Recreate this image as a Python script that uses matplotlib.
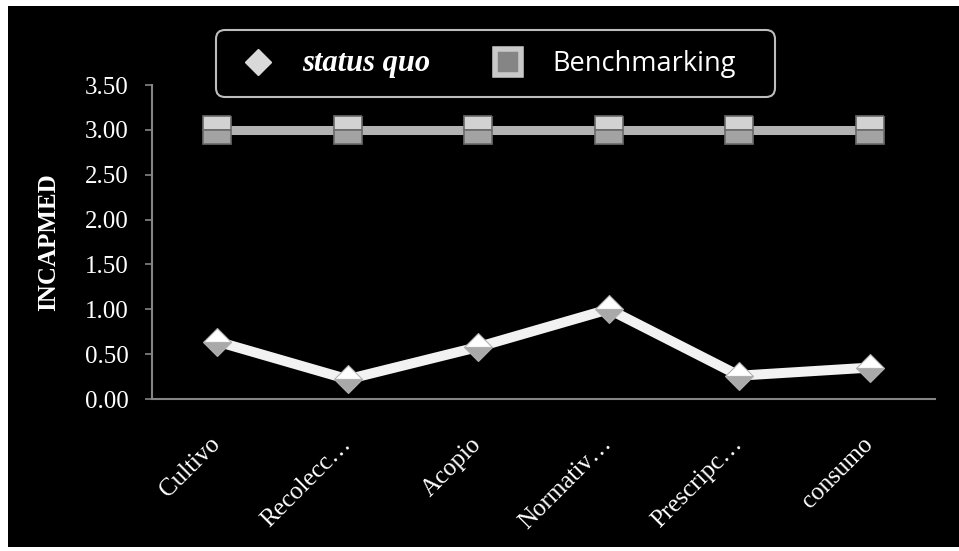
import matplotlib
matplotlib.use("Agg")
import matplotlib.pyplot as plt
from matplotlib.lines import Line2D
from matplotlib.patches import Rectangle, FancyBboxPatch

categories = ["Cultivo", "Recolecc…", "Acopio", "Normativ…", "Prescripc…", "consumo"]
status_quo = [0.64, 0.22, 0.58, 1.00, 0.26, 0.35]
benchmarking = [3.00, 3.00, 3.00, 3.00, 3.00, 3.00]
y_ticks = [0.0, 0.5, 1.0, 1.5, 2.0, 2.5, 3.0, 3.5]

serif = "Liberation Serif"
axis_grey = "#858585"

fig = plt.figure(figsize=(9.59, 5.51), dpi=100, facecolor="white")
# black panel with a thin white margin round it
fig.patches.append(Rectangle((8 / 959, 4 / 551), 951 / 959, 541 / 551,
                             transform=fig.transFigure, facecolor="black",
                             edgecolor="none", zorder=-5))
# rounded legend box (pixel coordinates)
fig.patches.append(FancyBboxPatch((216, 551 - 97), 559, 67,
                                  boxstyle="round,pad=0,rounding_size=9",
                                  transform=None, facecolor="black",
                                  edgecolor="#bdbdbd", linewidth=1.5, zorder=-4))

ax = fig.add_axes([152 / 959, 1 - 399 / 551, (935 - 152) / 959, (399 - 85) / 551])
ax.set_facecolor("none")

x = list(range(len(categories)))

ax.plot(x, benchmarking, color="#b3b3b3", lw=6.5, solid_capstyle="butt",
        marker="s", ms=20, fillstyle="top", markerfacecolor="#d2d2d2",
        markerfacecoloralt="#a3a3a3", markeredgecolor="#6a6a6a",
        markeredgewidth=1.2, zorder=3)
ax.plot(x, status_quo, color="#f2f2f2", lw=7.2, solid_capstyle="butt",
        marker="D", ms=14.5, fillstyle="top", markerfacecolor="#ffffff",
        markerfacecoloralt="#a9a9a9", markeredgecolor="#b0b0b0",
        markeredgewidth=0.8, zorder=4)

ax.set_xlim(-0.5, len(categories) - 0.5)
ax.set_ylim(0, 3.5)
ax.set_yticks(y_ticks)
ax.set_yticklabels([f"{v:.2f}" for v in y_ticks], fontfamily=serif,
                   fontsize=18, color="white")
ax.set_xticks(x)
ax.set_xticklabels(categories, fontfamily=serif, fontsize=18, color="white",
                   rotation=45, ha="right", va="center", rotation_mode="anchor")

ax.tick_params(axis="y", length=5, width=1.2, color=axis_grey, pad=12)
ax.tick_params(axis="x", length=0, pad=30)

for side in ["top", "right"]:
    ax.spines[side].set_visible(False)
for side in ["left", "bottom"]:
    ax.spines[side].set_color(axis_grey)
    ax.spines[side].set_linewidth(1.5)

ax.set_ylabel("INCAPMED", fontfamily=serif, fontsize=18, fontweight="bold",
              color="white", labelpad=18)

handles = [
    Line2D([], [], ls="none", marker="D", ms=13, markerfacecolor="#d9d9d9",
           markeredgecolor="#d9d9d9"),
    Line2D([], [], ls="none", marker="s", ms=19, markerfacecolor="#858585",
           markeredgecolor="#c9c9c9", markeredgewidth=4),
]
leg = fig.legend(handles, ["status quo", "Benchmarking"], ncol=2,
                 loc="upper center", bbox_to_anchor=(488.5 / 959, 1 - 30 / 551),
                 fontsize=20, frameon=False, handlelength=1.2,
                 handletextpad=1.0, columnspacing=2.2, borderpad=0.7,
                 borderaxespad=0)
t0, t1 = leg.get_texts()
t0.set_color("white")
t0.set_fontfamily(serif)
t0.set_fontstyle("italic")
t0.set_fontweight("bold")
t0.set_fontsize(22)
t1.set_color("white")
t1.set_fontfamily("Open Sans")
t1.set_fontsize(19.5)

fig.savefig("out.png", dpi=100, facecolor=fig.get_facecolor())
